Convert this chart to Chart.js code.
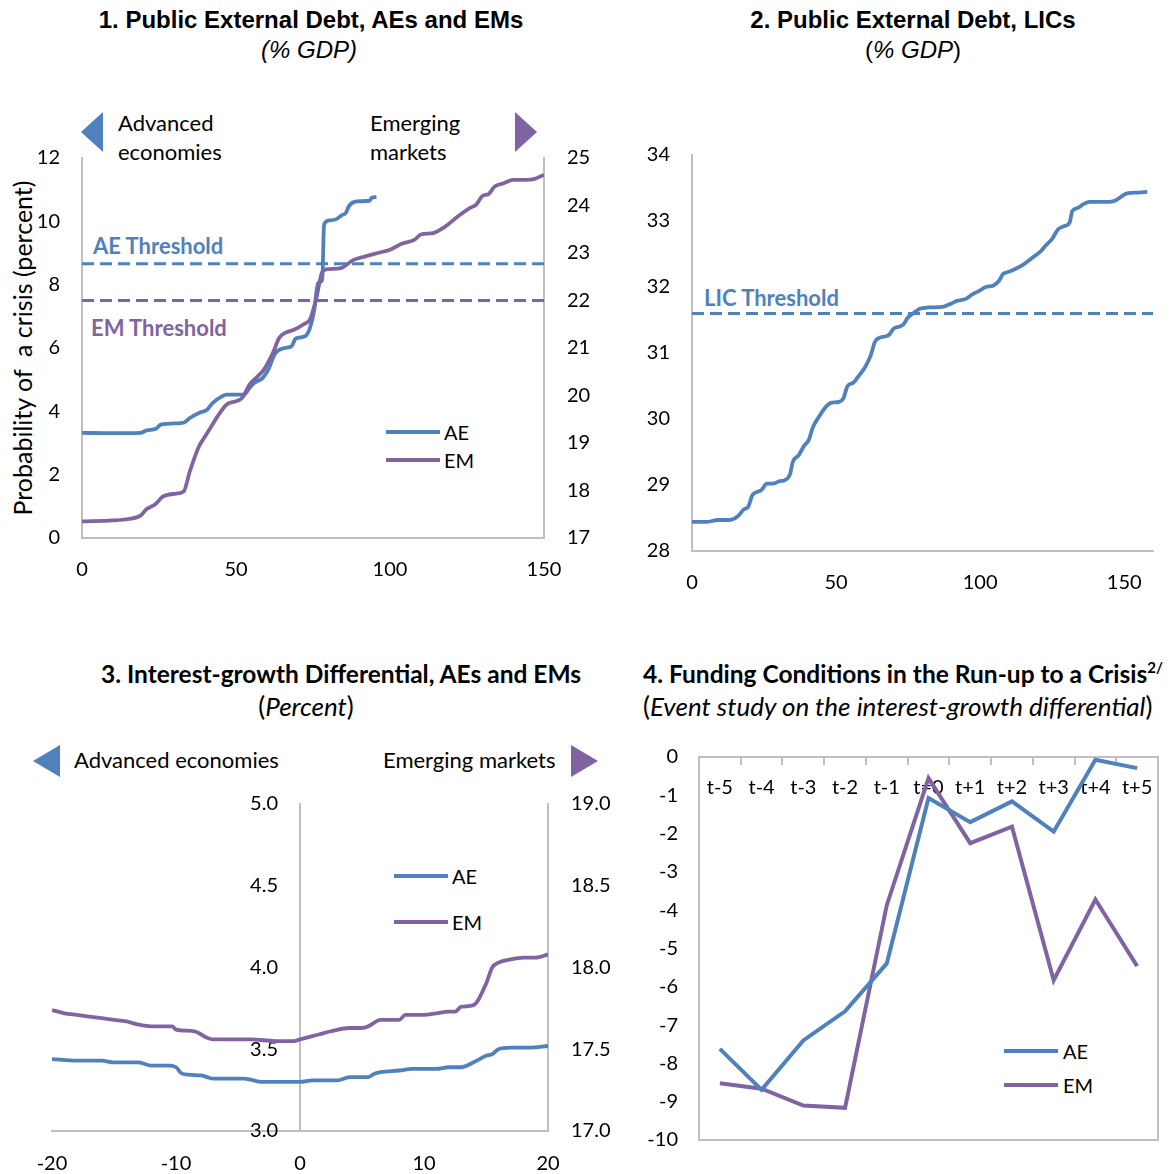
<!DOCTYPE html>
<html>
<head>
<meta charset="utf-8">
<script src="https://cdn.jsdelivr.net/npm/chart.js@4.4.1/dist/chart.umd.min.js"></script>
<style>
  body { margin: 0; background: #fff; }
  #page { position: relative; width: 1174px; height: 1174px; overflow: hidden; font-family: Lato, sans-serif; color: #000; }
  .abs { position: absolute; white-space: nowrap; }
  .t12 { font-family: "Liberation Sans", Arial, sans-serif; font-size: 24px; line-height: 28px; text-align: center; }
  .t34 { font-family: Lato, sans-serif; font-size: 24.5px; line-height: 30px; }
  .s34 { font-family: Lato, sans-serif; font-size: 26px; line-height: 30px; }
  .note { font-size: 22px; line-height: 29px; }
  .thr { font-weight: bold; font-size: 22px; line-height: 26px; }
  .leg { font-size: 20px; line-height: 24px; }
  .leg3 { font-size: 22px; line-height: 26px; }
  .sw { position: absolute; height: 4px; width: 54px; }
  .sup { position: relative; top: -10px; font-size: 15px; line-height: 0; }
  canvas { position: absolute; }
</style>
</head>
<body>
<div id="page">
  <!-- titles -->
  <div class="abs t12" style="left:61px;top:6px;width:500px;font-weight:bold;">1. Public External Debt, AEs and EMs</div>
  <div class="abs t12" style="left:59px;top:36px;width:500px;font-style:italic;">(% GDP)</div>
  <div class="abs t12" style="left:663px;top:6px;width:500px;font-weight:bold;">2. Public External Debt, LICs</div>
  <div class="abs t12" style="left:663px;top:36px;width:500px;">(<i>% GDP</i>)</div>
  <div class="abs t34" style="left:41px;top:659px;width:600px;text-align:center;font-weight:bold;">3. Interest-growth Differential, AEs and EMs</div>
  <div class="abs s34" style="left:106px;top:691px;width:400px;text-align:center;">(<i>Percent</i>)</div>
  <div class="abs t34" style="left:643px;top:659px;font-weight:bold;">4. Funding Conditions in the Run-up to a Crisis<span class="sup">2/</span></div>
  <div class="abs s34" style="left:643px;top:691px;">(<i>Event study on the interest-growth differential</i>)</div>

  <!-- panel 1 notes -->
  <div class="abs" style="left:81px;top:112px;width:0;height:0;border-top:20px solid transparent;border-bottom:20px solid transparent;border-right:22px solid #4F81BD;"></div>
  <div class="abs note" style="left:118px;top:108px;">Advanced<br>economies</div>
  <div class="abs" style="left:515px;top:112px;width:0;height:0;border-top:20px solid transparent;border-bottom:20px solid transparent;border-left:22px solid #8064A2;"></div>
  <div class="abs note" style="left:370px;top:108px;">Emerging<br>markets</div>
  <div class="abs thr" style="left:93px;top:233px;color:#4F81BD;">AE Threshold</div>
  <div class="abs thr" style="left:91px;top:315px;color:#8064A2;">EM Threshold</div>
  <div class="abs" style="left:-178px;top:333px;width:400px;text-align:center;font-size:25px;line-height:30px;transform:rotate(-90deg);">Probability of&nbsp; a crisis (percent)</div>
  <div class="sw" style="left:386px;top:430px;background:#4F81BD;"></div>
  <div class="abs leg" style="left:444px;top:420px;">AE</div>
  <div class="sw" style="left:386px;top:458px;background:#8064A2;"></div>
  <div class="abs leg" style="left:444px;top:448px;">EM</div>

  <!-- panel 2 notes -->
  <div class="abs thr" style="left:704px;top:285px;color:#4F81BD;">LIC Threshold</div>

  <!-- panel 3 notes -->
  <div class="abs" style="left:33px;top:745px;width:0;height:0;border-top:16px solid transparent;border-bottom:16px solid transparent;border-right:27px solid #4F81BD;"></div>
  <div class="abs leg3" style="left:74px;top:747px;">Advanced economies</div>
  <div class="abs" style="left:571px;top:745px;width:0;height:0;border-top:16px solid transparent;border-bottom:16px solid transparent;border-left:27px solid #8064A2;"></div>
  <div class="abs leg3" style="left:383px;top:747px;">Emerging markets</div>
  <div class="sw" style="left:394px;top:874px;background:#4F81BD;"></div>
  <div class="abs leg" style="left:452px;top:864px;">AE</div>
  <div class="sw" style="left:394px;top:920px;background:#8064A2;"></div>
  <div class="abs leg" style="left:452px;top:910px;">EM</div>

  <!-- panel 4 legend -->
  <div class="sw" style="left:1004px;top:1049px;background:#4F81BD;"></div>
  <div class="abs leg" style="left:1063px;top:1039px;">AE</div>
  <div class="sw" style="left:1004px;top:1083px;background:#8064A2;"></div>
  <div class="abs leg" style="left:1063px;top:1073px;">EM</div>

  <canvas id="c1" width="600" height="500" style="left:0;top:100px;"></canvas>
  <canvas id="c2" width="574" height="500" style="left:600px;top:100px;"></canvas>
  <canvas id="c3" width="630" height="410" style="left:0;top:764px;"></canvas>
  <canvas id="c4" width="544" height="463" style="left:630px;top:717px;"></canvas>
</div>
<script>
// 1. public external debt, AEs (left axis) and EMs (right axis)
const debtAeX = [0, 10, 19, 21, 24, 25.6, 32, 33.4, 35, 38, 40.6, 42.4, 45.4, 47, 52.6, 54.4, 56, 58.6, 60.4, 62.8, 65.8, 68, 69.4, 72.4, 74, 75.4, 76.6, 78, 78.6, 80.2, 82.6, 84.4, 85.6, 86.8, 89.2, 93.4, 94, 95.6];
const debtAeY = [3.32, 3.31, 3.32, 3.40, 3.45, 3.58, 3.63, 3.66, 3.79, 3.95, 4.05, 4.26, 4.47, 4.53, 4.53, 4.74, 4.90, 5.05, 5.30, 5.84, 6.00, 6.05, 6.30, 6.37, 6.63, 7.20, 8.05, 8.15, 9.90, 10.03, 10.07, 10.20, 10.26, 10.50, 10.63, 10.65, 10.74, 10.77];
const debtEmX = [0, 10, 15, 19, 21, 24, 26, 30, 33, 35, 38, 40, 42, 44, 47, 50, 52, 54.4, 57, 59, 62, 64, 66, 69, 72, 74, 76, 78, 80, 84, 88, 92, 96, 100, 104, 108, 110, 114, 118, 122, 126, 128, 130, 132, 134, 137, 140, 144, 147, 150];
const debtEmY = [17.35, 17.37, 17.40, 17.47, 17.61, 17.72, 17.86, 17.93, 17.98, 18.40, 18.93, 19.14, 19.35, 19.56, 19.81, 19.88, 19.95, 20.23, 20.40, 20.54, 20.90, 21.21, 21.32, 21.39, 21.50, 21.60, 22.02, 22.60, 22.66, 22.68, 22.85, 22.93, 23.00, 23.07, 23.20, 23.28, 23.39, 23.42, 23.56, 23.77, 23.95, 24.02, 24.20, 24.24, 24.40, 24.47, 24.54, 24.54, 24.56, 24.65];
const aeThreshold = 8.66;
const emThreshold = 22.0;
const debtXTicks = [0, 50, 100, 150];

// 2. public external debt, LICs
const licX = [0, 5, 9, 13, 16, 18, 19.5, 21, 24, 26, 28, 30.5, 32, 34, 35, 37, 39, 40.5, 42, 44, 46, 48, 51, 52.5, 54, 56, 58, 60, 62, 63.5, 65, 67, 68.5, 70, 72, 73.5, 75, 77, 79, 82, 87, 90, 92, 95, 97, 100, 102, 104.5, 106.5, 108, 110, 112, 115, 118, 121, 123, 125, 127, 129, 131, 132, 134, 136, 138, 141, 145, 147, 149, 151, 155, 158];
const licY = [28.44, 28.44, 28.47, 28.47, 28.53, 28.63, 28.67, 28.85, 28.92, 29.02, 29.02, 29.06, 29.07, 29.16, 29.35, 29.45, 29.60, 29.68, 29.88, 30.03, 30.16, 30.24, 30.26, 30.31, 30.50, 30.55, 30.66, 30.78, 30.96, 31.17, 31.23, 31.25, 31.28, 31.37, 31.40, 31.44, 31.54, 31.61, 31.67, 31.69, 31.70, 31.75, 31.79, 31.82, 31.88, 31.95, 32.00, 32.02, 32.09, 32.20, 32.23, 32.27, 32.34, 32.44, 32.54, 32.64, 32.73, 32.87, 32.92, 32.97, 33.15, 33.20, 33.26, 33.29, 33.29, 33.29, 33.31, 33.37, 33.42, 33.43, 33.44];
const licThreshold = 31.6;

// 3. interest-growth differential, AEs (left) and EMs (right)
const igAeX = [-20, -18, -16, -15, -13, -12, -10.5, -10, -9.5, -8, -7.5, -7, -4.5, -3, -1.5, 0, 1, 3, 4, 5.5, 6, 6.5, 8, 9, 11, 12, 13, 14, 15, 15.5, 16, 17, 18.5, 20];
const igAeY = [3.44, 3.43, 3.43, 3.42, 3.42, 3.40, 3.40, 3.39, 3.35, 3.34, 3.33, 3.32, 3.32, 3.30, 3.30, 3.30, 3.31, 3.31, 3.33, 3.33, 3.35, 3.36, 3.37, 3.38, 3.38, 3.39, 3.39, 3.42, 3.46, 3.47, 3.50, 3.51, 3.51, 3.52];
const igEmX = [-20, -19, -18, -17, -16, -15, -14, -13, -12, -10.3, -10, -8.5, -7.5, -7, -4, -2, -0.5, 0, 1, 1.5, 2.5, 4, 5, 5.5, 6.5, 8, 8.5, 10, 11, 12, 12.5, 13, 14, 15, 15.5, 16, 17, 18, 19, 20];
const igEmY = [17.74, 17.72, 17.71, 17.70, 17.69, 17.68, 17.67, 17.65, 17.64, 17.64, 17.62, 17.61, 17.57, 17.56, 17.56, 17.55, 17.55, 17.56, 17.58, 17.59, 17.61, 17.63, 17.63, 17.64, 17.68, 17.68, 17.71, 17.71, 17.72, 17.73, 17.73, 17.76, 17.77, 17.90, 18.00, 18.03, 18.05, 18.06, 18.06, 18.08];

// 4. event study
const eventLabels = ['t-5', 't-4', 't-3', 't-2', 't-1', 't=0', 't+1', 't+2', 't+3', 't+4', 't+5'];
const eventAe = [-7.62, -8.69, -7.40, -6.64, -5.39, -1.07, -1.70, -1.16, -1.95, -0.07, -0.29];
const eventEm = [-8.52, -8.66, -9.10, -9.16, -3.87, -0.55, -2.25, -1.82, -5.83, -3.72, -5.46];

const BLUE = '#4F81BD';
const PURPLE = '#8064A2';
const AXIS = '#BFBFBF';

Chart.defaults.font.family = 'Lato';
Chart.defaults.font.size = 20;
Chart.defaults.color = '#000';
Chart.defaults.animation = false;
Chart.defaults.responsive = false;
Chart.defaults.plugins.legend.display = false;
Chart.defaults.plugins.tooltip.enabled = false;
Chart.defaults.elements.point.radius = 0;

const pts = (xs, ys) => xs.map((x, i) => ({x: x, y: ys[i]}));
const flat = (x0, x1, v) => [{x: x0, y: v}, {x: x1, y: v}];

function axisOpts(extra) {
  return Object.assign({
    grid: {display: false, drawTicks: false},
    border: {display: true, color: AXIS, width: 2},
    ticks: {padding: 21}
  }, extra);
}
function fixW(w) { return s => { s.width = w; }; }
function fixH(h) { return s => { s.height = h; }; }
function setTicks(vals) { return s => { s.ticks = vals.map(v => ({value: v})); }; }

// box round the plot area (panel 4)
const frame = {
  id: 'frame',
  beforeDatasetsDraw(chart) {
    const a = chart.chartArea, ctx = chart.ctx;
    ctx.save();
    ctx.strokeStyle = AXIS;
    ctx.lineWidth = 2;
    ctx.strokeRect(a.left, a.top, a.right - a.left, a.bottom - a.top);
    ctx.restore();
  }
};

// an axis placed at x=0 puts its labels right on the line; move them left a bit
const nudgeLabels = {
  id: 'nudgeLabels',
  beforeDraw(chart) {
    const s = chart.scales.y;
    s.getLabelItems().forEach(item => {
      if (!item._nudged) { item.options.translation[0] -= 22; item._nudged = true; }
    });
  }
};

// panel 1
new Chart(document.getElementById('c1'), {
  type: 'line',
  data: {
    datasets: [
      {label: 'AE Threshold', data: flat(0, 150, aeThreshold), yAxisID: 'y', borderColor: BLUE, borderWidth: 3, borderDash: [12, 6]},
      {label: 'EM Threshold', data: flat(0, 150, emThreshold), yAxisID: 'y2', borderColor: PURPLE, borderWidth: 3, borderDash: [12, 6]},
      {label: 'EM', data: pts(debtEmX, debtEmY), yAxisID: 'y2', borderColor: PURPLE, borderWidth: 3.8, cubicInterpolationMode: 'monotone'},
      {label: 'AE', data: pts(debtAeX, debtAeY), yAxisID: 'y', borderColor: BLUE, borderWidth: 3.8, cubicInterpolationMode: 'monotone'}
    ]
  },
  options: {
    layout: {padding: {top: 58, left: 0, right: 0, bottom: 0}},
    scales: {
      x: axisOpts({type: 'linear', min: 0, max: 150, afterBuildTicks: setTicks(debtXTicks), afterFit: fixH(62), ticks: {padding: 20}}),
      y: axisOpts({type: 'linear', position: 'left', min: 0, max: 12, ticks: {stepSize: 2, padding: 22}, afterFit: fixW(82)}),
      y2: axisOpts({type: 'linear', position: 'right', min: 17, max: 25, ticks: {stepSize: 1, padding: 23}, afterFit: fixW(56)})
    }
  }
});

// panel 2
new Chart(document.getElementById('c2'), {
  type: 'line',
  data: {
    datasets: [
      {label: 'LIC Threshold', data: flat(0, 160, licThreshold), borderColor: BLUE, borderWidth: 3, borderDash: [12, 6]},
      {label: 'LIC', data: pts(licX, licY), borderColor: BLUE, borderWidth: 3.8, cubicInterpolationMode: 'monotone'}
    ]
  },
  options: {
    layout: {padding: {top: 55, left: 0, right: 21, bottom: 0}},
    scales: {
      x: axisOpts({type: 'linear', min: 0, max: 160, afterBuildTicks: setTicks(debtXTicks), afterFit: fixH(49), ticks: {padding: 20}}),
      y: axisOpts({type: 'linear', position: 'left', min: 28, max: 34, ticks: {stepSize: 1, padding: 22}, afterFit: fixW(92)})
    }
  }
});

// panel 3
new Chart(document.getElementById('c3'), {
  type: 'line',
  data: {
    datasets: [
      {label: 'AE', data: pts(igAeX, igAeY), yAxisID: 'y', borderColor: BLUE, borderWidth: 3.8, cubicInterpolationMode: 'monotone'},
      {label: 'EM', data: pts(igEmX, igEmY), yAxisID: 'y2', borderColor: PURPLE, borderWidth: 3.8, cubicInterpolationMode: 'monotone'}
    ]
  },
  options: {
    layout: {padding: {top: 40, left: 52, right: 0, bottom: 0}},
    scales: {
      x: axisOpts({type: 'linear', min: -20, max: 20, ticks: {stepSize: 10, padding: 21}, afterFit: fixH(43)}),
      y: axisOpts({type: 'linear', position: {x: 0}, min: 3, max: 5, ticks: {stepSize: 0.5, padding: 22, callback: v => v.toFixed(1)}}),
      y2: axisOpts({type: 'linear', position: 'right', min: 17, max: 19, ticks: {stepSize: 0.5, padding: 23, callback: v => v.toFixed(1)}, afterFit: fixW(82)})
    }
  },
  plugins: [nudgeLabels]
});

// panel 4
new Chart(document.getElementById('c4'), {
  type: 'line',
  data: {
    labels: eventLabels,
    datasets: [
      {label: 'AE', data: eventAe, borderColor: BLUE, borderWidth: 4},
      {label: 'EM', data: eventEm, borderColor: PURPLE, borderWidth: 4}
    ]
  },
  options: {
    layout: {padding: {top: 40, left: 0, right: 16, bottom: 40}},
    scales: {
      x: {type: 'category', position: {y: 0}, offset: true,
          grid: {display: true, offset: true, drawOnChartArea: false, drawTicks: true, tickLength: 7, color: AXIS, lineWidth: 2},
          border: {display: true, color: AXIS, width: 2},
          ticks: {padding: 12}},
      y: axisOpts({type: 'linear', position: 'left', min: -10, max: 0, ticks: {stepSize: 1, padding: 21}, afterFit: fixW(69)})
    }
  },
  plugins: [frame]
});
</script>
</body>
</html>
